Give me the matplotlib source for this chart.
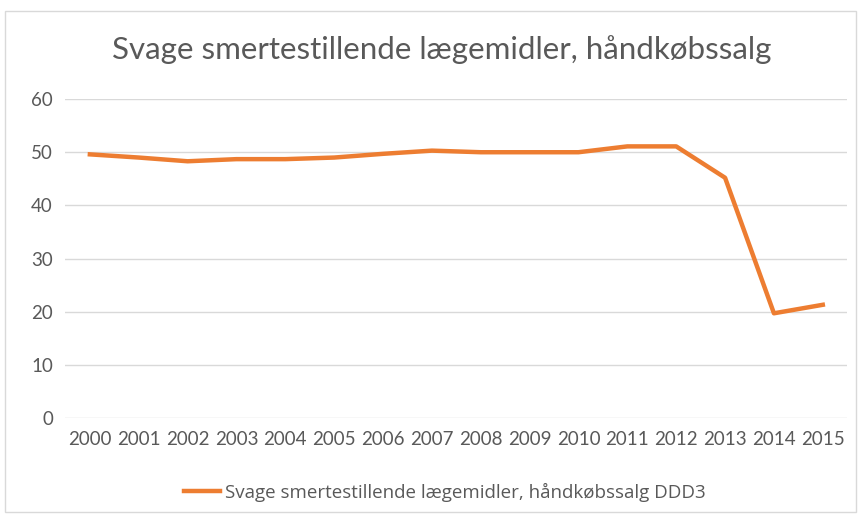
import matplotlib
matplotlib.use("Agg")
import matplotlib.pyplot as plt
from matplotlib.patches import Rectangle

years = [str(y) for y in range(2000, 2016)]
ddd = [49.6, 49.0, 48.3, 48.7, 48.7, 49.0, 49.7, 50.3, 50.0, 50.0, 50.0, 51.1, 51.1, 45.2, 19.7, 21.3]
series_name = "Svage smertestillende lægemidler, håndkøbssalg DDD3"
title = "Svage smertestillende lægemidler, håndkøbssalg"
yticks = [0, 10, 20, 30, 40, 50, 60]

fig = plt.figure(figsize=(8.61, 5.19), dpi=100)
ax = fig.add_axes([0.076, 0.1946, 0.908, 0.6145])

# outer chart border
fig.patches.append(Rectangle((0.006, 0.013), 0.988, 0.965, transform=fig.transFigure,
                             fill=False, edgecolor="#d9d9d9", linewidth=1.0))

x = range(len(years))
line, = ax.plot(x, ddd, color="#ed7d31", linewidth=3.2, solid_joinstyle="round")

ax.set_xlim(-0.5, len(years) - 0.5)
ax.set_ylim(0, 60)
ax.set_yticks(yticks)
ax.set_xticks(list(x))
ax.set_xticklabels(years)
ax.grid(axis="y", color="#d9d9d9", linewidth=1.0)
ax.set_axisbelow(True)
for s in ax.spines.values():
    s.set_visible(False)
ax.tick_params(length=0, labelsize=13.5, colors="#595959", pad=9)
for lab in ax.get_xticklabels() + ax.get_yticklabels():
    lab.set_family("Lato")

fig.text(0.513, 0.905, title, ha="center", va="center", fontsize=22.5,
         color="#595959", family="Lato")

fig.legend([line], [series_name], loc="center", bbox_to_anchor=(0.517, 0.052),
           frameon=False, handlelength=1.9, handletextpad=0.3,
           prop={"family": "Open Sans", "size": 13.5}, labelcolor="#595959")

plt.savefig("out.png", dpi=100)
